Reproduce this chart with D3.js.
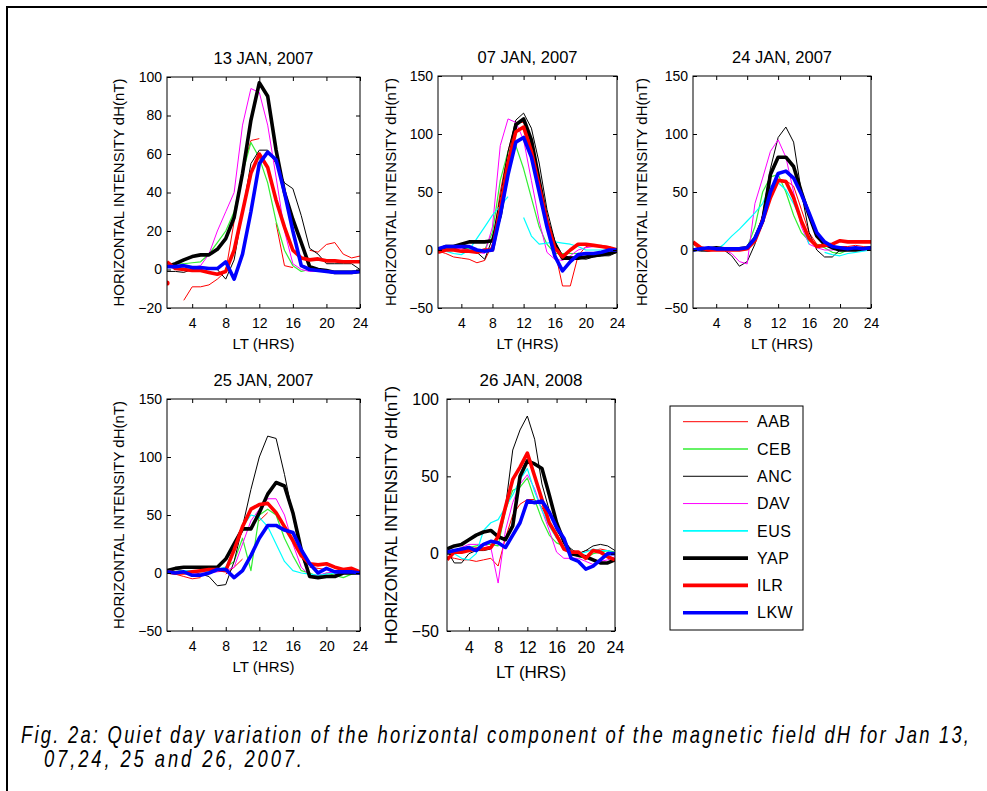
<!DOCTYPE html>
<html>
<head>
<meta charset="utf-8">
<title>Quiet day variation of dH</title>
<style>
	body { margin: 0; background: #fff; }
	svg text { font-family: "Liberation Sans", Arial, sans-serif; fill: #000; }
	.caption { font-style: italic; }
</style>
</head>
<body>
<svg id="fig" width="987" height="791"></svg>
<script src="https://cdn.jsdelivr.net/npm/d3@7"></script>
<script>
	// local time (hours)
	const hours = [1, 2, 3, 4, 5, 6, 7, 8, 9, 10, 11, 12, 13, 14, 15, 16, 17, 18, 19, 20, 21, 22, 23, 24]
	const xTicks = [4, 8, 12, 16, 20, 24]
	const stations = ["AAB", "CEB", "ANC", "DAV", "EUS", "YAP", "ILR", "LKW"]
	const titles = ["13 JAN, 2007", "07 JAN, 2007", "24 JAN, 2007", "25 JAN, 2007", "26 JAN, 2008"]

	// dH (nT) per station, rows in the same order as stations
	const jan13 = [
		[-7, null, -16, -9, -9, -8, -5, -1, 25, 52, 67, 68, null, 24, 2, 1, null, 10, 9, 13, 14, 8, 6, 7],
		[2, 3, 3, 3.5, 4, 8, 14, 20, 30, 50, 66, 58, 45, 25, 10, 2, -1, 0, -1, -1, -1, -1, -1, -1],
		[-1, -1, -1.5, 0, 1, 1, 0, -5, 5, 30, 55, 62, 62, 55, 45, 42, 28, 11, 8, 3, 3, 3, 3, 0],
		[2, 2, 2, 1, 2, 8, 20, 30, 40, 75, 94, 92, 75, 48, 20, 3, 0, -1, -1, -1, -1, -1, -1, -1],
		[null, null, null, null, null, null, null, null, null, null, null, null, null, null, null, null, null, null, null, null, null, null, null, null],
		[1.5, 3, 5, 6.7, 7.6, 7.6, 10.5, 16, 27, 50, 77.5, 97, 90, 62, 40, 26, 14, 1.5, 0, -0.5, -1.5, -1.5, -1.5, -1],
		[4, 0.5, 0, -0.5, -0.5, -1.5, -2.5, -1, 10, 30, 50, 60, 53, 36, 22, 10, 6, 5, 5.5, 4.5, 4.5, 4, 4, 4],
		[1.5, 1.5, 2, 1, 1, 0.5, 0.5, 4, -5, 8, 30, 55, 61, 57, 40, 20, 2, 0, -0.5, -1, -1.5, -1.5, -1.5, -1]
	]
	const jan07 = [
		[-1, -3, -6, -7, -8, -11, -9, 5, 50, 85, 110, 110, 90, 55, 20, 0, -31, -31, -5, 3, 4, 4, 3, 0],
		[0, 1, 2, 2, 1, 0, 0, 15, 60, 85, 90, 70, 45, 20, 5, -3, -3, -3, -3, -4, -4, -3, -2, -1],
		[-1, 0, 1, 2, 0, -2, -8, 10, 45, 85, 112, 118, 105, 75, 35, 8, -5, -6, -7, -8, -6, -5, -5, -2],
		[0, 2, 2, 1, 0, -2, -3, 20, 90, 113, 110, 95, 60, 25, -2, -8, -9, -5, 0, 2, 3, 3, 2, 0],
		[0, -1, -3, -4, 0, 10, 20, 30, 38, 46, null, 28, 12, 5, 6, 7, 6, 5, 3, 0, 0, 0, 0, 0],
		[0, 3, 3, 5, 7, 7, 7, 8, 30, 70, 108, 113, 95, 60, 25, 5, -7, -7, -7, -6, -5, -4, -3, -1],
		[-2, 0, 0, -1, -1, -2, 0, 0, 35, 75, 102, 106, 85, 55, 25, 2, -6, 0, 5, 5, 4, 3, 2, 0],
		[1, 3, 3, 3, 3, 0, -1, 0, 30, 65, 93, 97, 80, 50, 20, -5, -18, -10, -4, -3, -3, -2, 0, 0]
	]
	const jan24 = [
		[5, 0, -1, 0, 0, 0, 0, 1, 10, 30, 50, 60, 60, 55, 35, 15, 5, 3, 3, 3, 3, 4, 3, 2],
		[0, 0, 0, 0, 0, 0, 0, 2, 20, 50, 63, 65, 50, 30, 15, 8, 5, 2, -2, -3, 0, 1, 1, 1],
		[0, -1, -1, 1, 0, -5, -14, -10, 5, 30, 70, 97, 106, 93, 50, 15, 0, -6, -6, 0, 1, 1, 1, 1],
		[1, 0, 0, 0, 0, -3, -10, -12, 40, 62, 85, 95, 80, 50, 20, 5, 2, 0, 0, 1, 1, 1, 1, 1],
		[0, 0, 0, 0, 5, 12, 18, 25, 32, 40, 55, 58, 52, 40, 25, 5, null, -2, -4, -5, -3, -2, -1, 0],
		[0, 1, 1, 2, 1, 1, 1, 2, 10, 25, 65, 80, 80, 72, 50, 30, 12, 5, 2, 0, 0, 0, 1, 2],
		[7, 2, 0, 0, 0, 0, 0, 1, 8, 25, 45, 60, 59, 45, 25, 10, 3, 4, 5, 8, 7, 7, 7, 7],
		[0, 1, 2, 1, 1, 1, 1, 2, 10, 25, 50, 66, 68, 62, 48, 32, 15, 7, 3, 2, 1, 2, 1, 2]
	]
	const jan25 = [
		[0, -1, -3, -5, -4, null, null, -1, 5, 12, null, 45, 52, null, null, null, null, 5, 4, 3, 2, 2, 1, 0],
		[1, 1, 1, 1, 1, 2, 2, 5, 10, 30, 2, 50, 55, 50, 30, 15, 2, 0, -3, 0, -2, -4, -1, 0],
		[2, 3, 2, 1, -1, -3, -11, -10, 10, 40, 72, 100, 118, 116, 85, 50, 15, -2, -4, -3, -2, 0, 0, 0],
		[0, 0, 0, 0, 0, 0, 1, 2, 5, 25, 45, 55, 64, 64, 50, 25, 5, -2, -2, 0, 1, 0, 0, 0],
		[1, 1, 2, 2, 1, 2, 3, 5, 20, 40, 50, 48, 40, 25, 10, 2, 0, -1, -2, -1, 0, 0, 0, 0],
		[2, 4, 5, 5, 5, 5, 5, 12, 25, 38, 38, 52, 68, 78, 75, 52, 20, -3, -4, -3, -3, 0, 0, 0],
		[1, 0, 0, 1, 2, 3, 3, 2, 20, 40, 55, 59, 60, 52, 40, 28, 15, 8, 7, 8, 5, 3, 4, 1],
		[1, 0, 1, -2, -2, 0, 3, 3, -4, 2, 15, 30, 41, 41, 37, 35, 20, 8, 0, 4, 1, 1, 1, 0]
	]
	const jan26 = [
		[-2, -3, -4, -4, -5, -4, -3, -8, 10, 25, 32, 35, 35, 30, 20, 10, 5, 1, 0, 2, 2, 3, 2, 0],
		[0, 1, 2, 4, 5, 6, 6, 5, 28, 41, 43, 49, 35, 22, 12, 7, 5, 0, -2, -3, 0, 1, 2, 1],
		[2, -6, -6, 0, 2, 2, 3, 10, 30, 67, 80, 89, 74, 45, 28, 15, 8, 3, 0, 2, 5, 6, 5, 2],
		[0, 2, 4, 6, 6, 6, 4, -19, 15, 33, 45, 51, 42, 28, 15, 1, -3, -3, -3, -5, -7, -5, -4, -2],
		[1, 0, -3, -4, 0, 15, 20, 22, 30, 38, 48, 55, 40, 28, 18, 10, 5, 2, 0, 1, 3, 2, 2, 0],
		[3, 5, 6, 9, 12, 14, 15, 11, 9, 18, 50, 60, 58, 55, 38, 20, 8, 0, -1, -2, -4, -6, -6, -4],
		[-4, 1, 1, 2, 3, 3, 4, 11, 30, 48, 56, 65, 50, 35, 20, 12, 3, 1, 1, -3, 2, 1, -2, -4],
		[1, 2, 3, 4, 2, 6, 8, 7, 4, 12, 20, 34, 33, 34, 27, 17, 10, -3, -5, -10, -8, -4, 0, 0]
	]
	const panelData = [jan13, jan07, jan24, jan25, jan26]
	const yDomains = [[-20, 100], [-50, 150], [-50, 150], [-50, 150], [-50, 100]]
	const yTicks = [[-20, 0, 20, 40, 60, 80, 100], [-50, 0, 50, 100, 150], [-50, 0, 50, 100, 150], [-50, 0, 50, 100, 150], [-50, 0, 50, 100]]

	// styles
	const colors = ["#ff0000", "#33ee33", "#000000", "#ff00ff", "#00ffff", "#000000", "#ff0000", "#0000ff"]
	const widths = [1, 1.2, 1, 1, 1.2, 3.6, 3.6, 3.6]

	// panel boxes: l, r, t, b and font sizes
	const boxes = [
		{ l: 167, r: 360, t: 77, b: 308, fTick: 14, fLab: 15, fTitle: 16.5, yl: 43 },
		{ l: 438, r: 617, t: 76, b: 308, fTick: 14, fLab: 15, fTitle: 16.5, yl: 42 },
		{ l: 693, r: 871, t: 76, b: 308, fTick: 14, fLab: 15, fTitle: 16.5, yl: 46 },
		{ l: 167, r: 360, t: 399, b: 631, fTick: 14, fLab: 15, fTitle: 16.5, yl: 43 },
		{ l: 447, r: 615, t: 399, b: 631, fTick: 16, fLab: 17, fTitle: 17, yl: 50 }
	]

	const svg = d3.select("#fig")
	// outer frame (top and left edges only)
	svg.append("path").attr("d", "M7,791V7H987").attr("fill", "none")
		.attr("stroke", "#000").attr("stroke-width", 2)

	boxes.forEach((bx, pi) => {
		const x = d3.scaleLinear().domain([1, 24]).range([bx.l, bx.r])
		const y = d3.scaleLinear().domain(yDomains[pi]).range([bx.b, bx.t])
		const g = svg.append("g")

		g.append("clipPath").attr("id", "clip" + pi).append("rect")
			.attr("x", bx.l).attr("y", bx.t).attr("width", bx.r - bx.l).attr("height", bx.b - bx.t)

		const lines = g.append("g").attr("clip-path", "url(#clip" + pi + ")")
		const line = d3.line().defined(d => d != null)
			.x((d, i) => x(hours[i])).y(d => y(d))
		panelData[pi].forEach((vals, si) => {
			lines.append("path").datum(vals)
				.attr("fill", "none").attr("stroke", colors[si]).attr("stroke-width", widths[si])
				.attr("stroke-linejoin", "round")
				.attr("d", line)
			// isolated points show as dots
			vals.forEach((v, i) => {
				if (v != null && vals[i - 1] == null && vals[i + 1] == null)
					lines.append("circle").attr("cx", x(hours[i])).attr("cy", y(v)).attr("r", 2.6)
						.attr("fill", colors[si])
			})
		})

		// axes, ticks pointing inwards
		const ax = (gen, tx, ty, labels) => {
			const a = g.append("g").attr("transform", `translate(${tx},${ty})`).call(gen)
			a.select(".domain").remove()
			a.selectAll("text").style("font-size", bx.fTick + "px")
			if (!labels) a.selectAll("text").remove()
			return a
		}
		ax(d3.axisBottom(x).tickValues(xTicks).tickSize(-4).tickPadding(bx.fTick == 14 ? 10 : 11), 0, bx.b, true)
		ax(d3.axisTop(x).tickValues(xTicks).tickSize(-4), 0, bx.t, false)
		ax(d3.axisLeft(y).tickValues(yTicks[pi]).tickSize(-4).tickPadding(bx.fTick == 14 ? 5 : 8), bx.l, 0, true)
		ax(d3.axisRight(y).tickValues(yTicks[pi]).tickSize(-4), bx.r, 0, false)

		g.append("rect").attr("x", bx.l).attr("y", bx.t)
			.attr("width", bx.r - bx.l).attr("height", bx.b - bx.t)
			.attr("fill", "none").attr("stroke", "#000").attr("stroke-width", 1)

		const cx = (bx.l + bx.r) / 2
		g.append("text").attr("x", cx).attr("y", bx.t - 13).attr("text-anchor", "middle")
			.style("font-size", bx.fTitle + "px").text(titles[pi])
		g.append("text").attr("x", cx).attr("y", bx.b + (bx.fTick == 14 ? 41 : 47)).attr("text-anchor", "middle")
			.style("font-size", bx.fLab + "px").text("LT (HRS)")
		g.append("text")
			.attr("transform", `translate(${bx.l - bx.yl},${(bx.t + bx.b) / 2}) rotate(-90)`)
			.attr("text-anchor", "middle")
			.style("font-size", bx.fLab + "px").text("HORIZONTAL INTENSITY dH(nT)")
	})

	// legend
	const lg = svg.append("g")
	lg.append("rect").attr("x", 670).attr("y", 406).attr("width", 133).attr("height", 224)
		.attr("fill", "#fff").attr("stroke", "#000").attr("stroke-width", 1)
	const ly = d3.scalePoint().domain(stations).range([421.7, 612.7])
	stations.forEach((s, si) => {
		lg.append("line").attr("x1", 683).attr("x2", 748).attr("y1", ly(s)).attr("y2", ly(s))
			.attr("stroke", colors[si]).attr("stroke-width", si > 4 ? 3.6 : (si == 1 || si == 4 ? 1.6 : 1))
		lg.append("text").attr("x", 757).attr("y", ly(s)).attr("dy", "0.36em")
			.style("font-size", "16px").style("letter-spacing", "0.5px").text(s)
	})

	// caption: narrow italic glyphs
	const sx = 0.8
	const cap = svg.append("g").attr("transform", `scale(${sx},1)`)
	cap.append("text").attr("class", "caption").attr("x", 21 / sx).attr("y", 743)
		.style("font-size", "23px").attr("textLength", 948 / sx).attr("lengthAdjust", "spacing")
		.text("Fig. 2a: Quiet day variation of the horizontal component of the magnetic field dH for Jan 13,")
	cap.append("text").attr("class", "caption").attr("x", 44 / sx).attr("y", 767)
		.style("font-size", "23px").attr("textLength", 258 / sx).attr("lengthAdjust", "spacing")
		.text("07,24, 25 and 26, 2007.")
</script>
</body>
</html>
